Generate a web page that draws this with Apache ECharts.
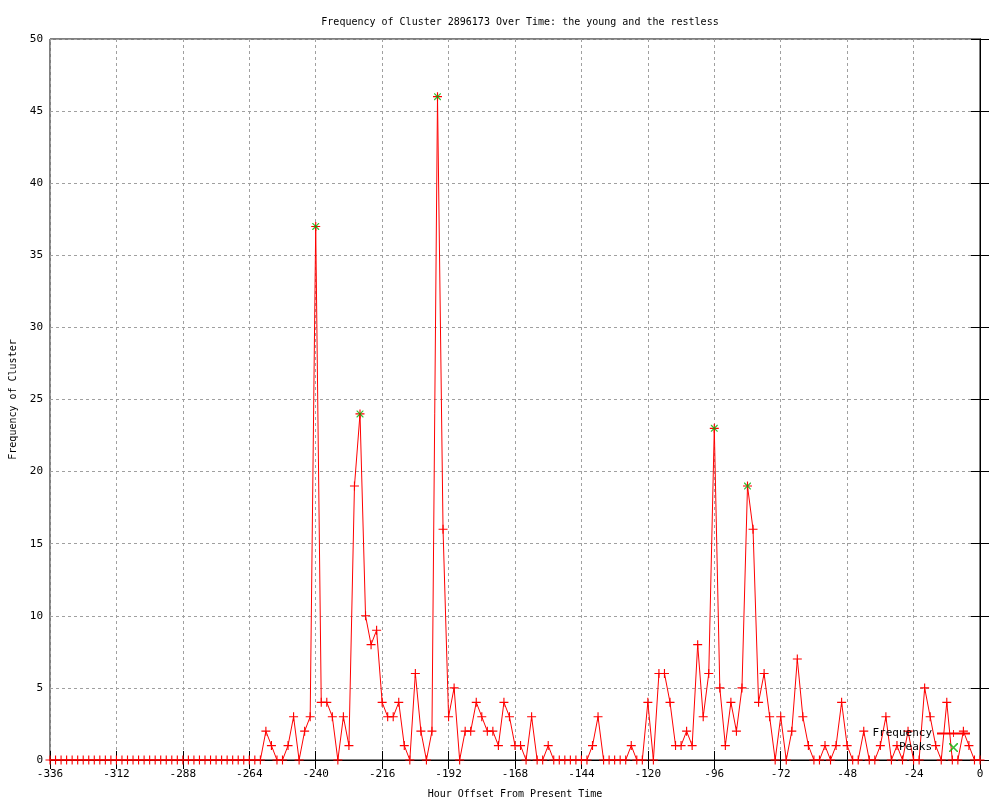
<!DOCTYPE html>
<html>
<head>
<meta charset="utf-8">
<title>Frequency of Cluster 2896173</title>
<script src="https://cdn.jsdelivr.net/npm/echarts@6/dist/echarts.min.js"></script>
<style>
    html, body {
        margin: 0;
        padding: 0;
        background: #ffffff;
    }
    #chart {
        width: 1000px;
        height: 800px;
    }
</style>
</head>
<body>
<div id="chart"></div>
<script>
// 数据
const titleText = "Frequency of Cluster 2896173 Over Time: the young and the restless";

// hour offsets, every 2 hours from -336 to 0
const hours = Array.from({ length: 169 }, (_, i) => -336 + i * 2);

// frequency per hour offset (same order as hours)
const freq = [
    0, 0, 0, 0, 0, 0, 0, 0, 0, 0, 0, 0, 0,          // -336 .. -312
    0, 0, 0, 0, 0, 0, 0, 0, 0, 0, 0, 0,             // -310 .. -288
    0, 0, 0, 0, 0, 0, 0, 0, 0, 0, 0, 0,             // -286 .. -264
    0, 0, 2, 1, 0, 0, 1, 3, 0, 2, 3,                // -262 .. -242
    37, 4, 4, 3, 0, 3, 1, 19, 24, 10, 8, 9,         // -240 .. -218
    4, 3, 3, 4, 1, 0, 6, 2, 0, 2, 46, 16,           // -216 .. -194
    3, 5, 0, 2, 2, 4, 3, 2, 2, 1, 4, 3,             // -192 .. -170
    1, 1, 0, 3, 0, 0, 1, 0, 0, 0, 0, 0,             // -168 .. -146
    0, 0, 1, 3, 0, 0, 0, 0, 0, 1, 0, 0,             // -144 .. -122
    4, 0, 6, 6, 4, 1, 1, 2, 1, 8, 3, 6,             // -120 .. -98
    23, 5, 1, 4, 2, 5, 19, 16, 4, 6, 3, 0,          // -96 .. -74
    3, 0, 2, 7, 3, 1, 0, 0, 1, 0, 1, 4,             // -72 .. -50
    1, 0, 0, 2, 0, 0, 1, 3, 0, 1, 0, 2,             // -48 .. -26
    0, 0, 5, 3, 1, 0, 4, 0, 0, 2, 1, 0,             // -24 .. -2
    0                                               // 0
];

// detected peaks
const peakHours = [-240, -224, -196, -96, -84];
const peakValues = [37, 24, 46, 23, 19];

// 坐标轴刻度
const xMin = -336, xMax = 0, xStep = 24;
const yMin = 0, yMax = 50, yStep = 5;

// 样式
const font = "DejaVu Sans Mono";
const plusSymbol = "path://M0,3.5H8V4.5H0ZM3.5,0H4.5V8H3.5Z";
const crossSymbol = "path://M0,0L1,0L8,7L8,8L7,8L0,1ZM7,0L8,0L8,1L1,8L0,8L0,7Z";

const freqData = hours.map((h, i) => [h, freq[i]]);
const peakData = peakHours.map((h, i) => [h, peakValues[i]]);

const tickStyle = { show: true, inside: true, length: 9, lineStyle: { color: "#000", width: 1 } };
const gridLine = { show: true, lineStyle: { color: "#a0a0a0", type: [3, 3], width: 1 } };
const labelStyle = { color: "#000", fontFamily: font, fontSize: 11 };

const option = {
    backgroundColor: "#ffffff",
    animation: false,
    title: {
        text: titleText,
        left: 515,
        top: 12,
        textAlign: "center",
        textStyle: { color: "#000", fontFamily: font, fontSize: 10, fontWeight: "normal" },
    },
    grid: {
        left: 50,
        right: 20,
        top: 39,
        bottom: 40,
        outerBoundsMode: "none",
        containLabel: false,
        show: true,
        borderColor: "#000",
        borderWidth: 1,
    },
    legend: {
        orient: "vertical",
        right: 29,
        top: 728,
        align: "right",
        itemWidth: 33,
        itemHeight: 9,
        itemGap: 3,
        padding: 0,
        textStyle: { color: "#000", fontFamily: font, fontSize: 11 },
        data: ["Frequency", "Peaks"],
    },
    xAxis: [
        {
            type: "value",
            min: xMin,
            max: xMax,
            interval: xStep,
            name: "Hour Offset From Present Time",
            nameLocation: "middle",
            nameGap: 29,
            nameTextStyle: { color: "#000", fontFamily: font, fontSize: 10 },
            axisLine: { show: true, lineStyle: { color: "#000" } },
            axisTick: tickStyle,
            axisLabel: Object.assign({ margin: 9, showMinLabel: true, showMaxLabel: true }, labelStyle),
            splitLine: gridLine,
        },
        {
            type: "value",
            position: "top",
            min: xMin,
            max: xMax,
            interval: xStep,
            axisLine: { show: true, lineStyle: { color: "#000" } },
            axisTick: tickStyle,
            axisLabel: { show: false },
            splitLine: { show: false },
        },
    ],
    yAxis: [
        {
            type: "value",
            min: yMin,
            max: yMax,
            interval: yStep,
            name: "Frequency of Cluster",
            nameLocation: "middle",
            nameGap: 31,
            nameTextStyle: { color: "#000", fontFamily: font, fontSize: 10 },
            axisLine: { show: true, lineStyle: { color: "#000" } },
            axisTick: tickStyle,
            axisLabel: Object.assign({ margin: 7 }, labelStyle),
            splitLine: gridLine,
        },
        {
            type: "value",
            position: "right",
            min: yMin,
            max: yMax,
            interval: yStep,
            axisLine: { show: true, lineStyle: { color: "#000" } },
            axisTick: tickStyle,
            axisLabel: { show: false },
            splitLine: { show: false },
        },
    ],
    series: [
        {
            name: "Frequency",
            type: "line",
            data: freqData,
            symbol: plusSymbol,
            symbolSize: 9,
            showSymbol: true,
            showAllSymbol: true,
            color: "#ff0000",
            lineStyle: { color: "#ff0000", width: 1 },
            itemStyle: { color: "#ff0000" },
            emphasis: { disabled: true },
            z: 2,
        },
        {
            name: "Peaks",
            type: "scatter",
            data: peakData,
            symbol: crossSymbol,
            symbolSize: 7,
            color: "#00b000",
            itemStyle: { color: "#00b000" },
            emphasis: { disabled: true },
            z: 3,
        },
    ],
};

const chart = echarts.init(document.getElementById("chart"), null, { renderer: "canvas" });
chart.setOption(option);
</script>
</body>
</html>
